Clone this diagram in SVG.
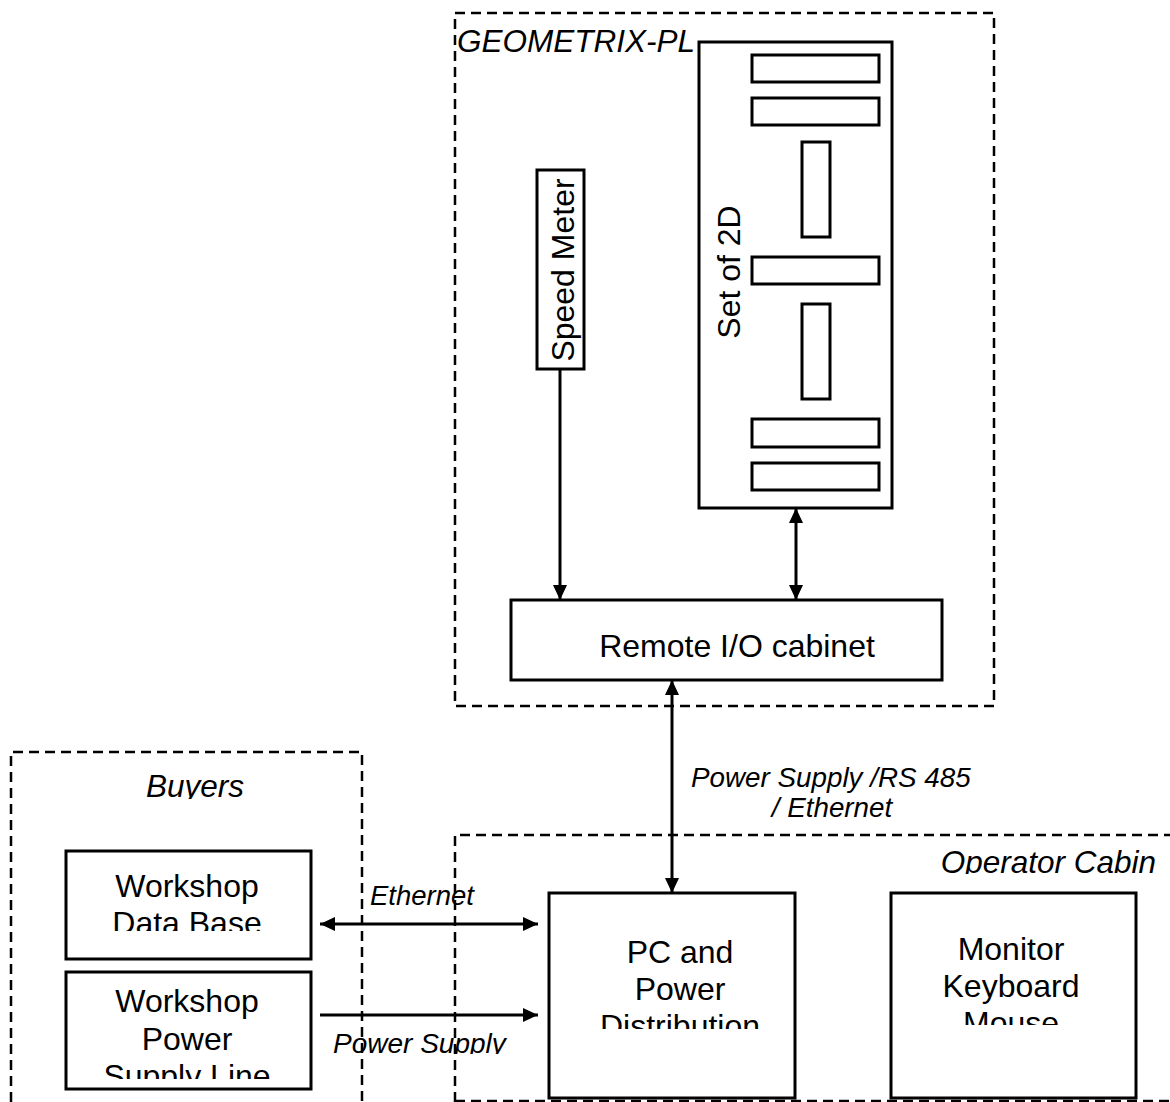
<svg xmlns="http://www.w3.org/2000/svg" width="1170" height="1102" viewBox="0 0 1170 1102">
<style>
.grp{fill:none;stroke:#000;stroke-width:2.5;stroke-dasharray:10 6}
.box{fill:#fff;stroke:#000;stroke-width:3}
.sub{fill:#fff;stroke:#000;stroke-width:3}
.t{font-family:"Liberation Sans",Arial,sans-serif;font-size:32px;fill:#000}
.i{font-family:"Liberation Sans",Arial,sans-serif;font-style:italic;fill:#000}
.c{fill:none;stroke:#000;stroke-width:3}
</style>
<defs>
<marker id="ah" markerUnits="userSpaceOnUse" markerWidth="15" markerHeight="14" refX="15" refY="7" orient="auto-start-reverse" viewBox="0 0 15 14">
<path d="M0,0 L15,7 L0,14 Z" fill="#000"/>
</marker>
<clipPath id="cBuyers"><rect x="100" y="760" width="200" height="39"/></clipPath>
<clipPath id="cDB"><rect x="66" y="900" width="245" height="31"/></clipPath>
<clipPath id="cPSL"><rect x="66" y="1055" width="245" height="24"/></clipPath>
<clipPath id="cPS"><rect x="320" y="1020" width="220" height="34"/></clipPath>
<clipPath id="cEth"><rect x="700" y="792" width="260" height="25"/></clipPath>
<clipPath id="cOC"><rect x="900" y="840" width="270" height="34"/></clipPath>
<clipPath id="cDist"><rect x="549" y="1005" width="246" height="24"/></clipPath>
<clipPath id="cMouse"><rect x="891" y="1000" width="245" height="25"/></clipPath>
</defs>

<g id="group-geometrix">
<rect class="grp" x="455" y="13" width="539" height="693"/>
<text class="i" x="457" y="52" font-size="31.5">GEOMETRIX-PL</text>
</g>
<g id="group-buyers">
<path class="grp" d="M11,1102 V752 H362 V1102"/>
<text class="i" x="195" y="797" font-size="31.5" text-anchor="middle" clip-path="url(#cBuyers)">Buyers</text>
</g>
<g id="group-operator">
<path class="grp" d="M455,1102 V835 H1170 M455,1101 H1170"/>
<text class="i" x="1156" y="873" font-size="31.5" text-anchor="end" clip-path="url(#cOC)">Operator Cabin</text>
</g>

<g id="node-set2d">
<rect class="box" x="699" y="42" width="193" height="466"/>
<rect class="sub" x="752" y="55" width="127" height="27"/>
<rect class="sub" x="752" y="98" width="127" height="27"/>
<rect class="sub" x="802" y="142" width="28" height="95"/>
<rect class="sub" x="752" y="257" width="127" height="27"/>
<rect class="sub" x="802" y="304" width="28" height="95"/>
<rect class="sub" x="752" y="419" width="127" height="28"/>
<rect class="sub" x="752" y="463" width="127" height="27"/>
<text class="t" transform="translate(740,272) rotate(-90)" text-anchor="middle">Set of 2D</text>
</g>
<g id="node-speed">
<rect class="box" x="537" y="170" width="47" height="199"/>
<text class="t" transform="translate(574,270) rotate(-90)" text-anchor="middle">Speed Meter</text>
</g>
<g id="node-remote">
<rect class="box" x="511" y="600" width="431" height="80"/>
<text class="t" x="737" y="657" text-anchor="middle">Remote I/O cabinet</text>
</g>
<g id="node-wdb">
<rect class="box" x="66" y="851" width="245" height="108"/>
<text class="t" x="187" y="897" text-anchor="middle">Workshop</text>
<text class="t" x="187" y="934" text-anchor="middle" clip-path="url(#cDB)">Data Base</text>
</g>
<g id="node-wpsl">
<rect class="box" x="66" y="972" width="245" height="117"/>
<text class="t" x="187" y="1012" text-anchor="middle">Workshop</text>
<text class="t" x="187" y="1050" text-anchor="middle">Power</text>
<text class="t" x="187" y="1087" text-anchor="middle" clip-path="url(#cPSL)">Supply Line</text>
</g>
<g id="node-pc">
<rect class="box" x="549" y="893" width="246" height="205"/>
<text class="t" x="680" y="963" text-anchor="middle">PC and</text>
<text class="t" x="680" y="1000" text-anchor="middle">Power</text>
<text class="t" x="680" y="1037" text-anchor="middle" clip-path="url(#cDist)">Distribution</text>
</g>
<g id="node-monitor">
<rect class="box" x="891" y="893" width="245" height="205"/>
<text class="t" x="1011" y="960" text-anchor="middle">Monitor</text>
<text class="t" x="1011" y="997" text-anchor="middle">Keyboard</text>
<text class="t" x="1011" y="1034" text-anchor="middle" clip-path="url(#cMouse)">Mouse</text>
</g>

<g id="connectors">
<line class="c" x1="560" y1="369" x2="560" y2="600" marker-end="url(#ah)"/>
<line class="c" x1="796" y1="508" x2="796" y2="600" marker-start="url(#ah)" marker-end="url(#ah)"/>
<line class="c" x1="672" y1="680" x2="672" y2="893" marker-start="url(#ah)" marker-end="url(#ah)"/>
<line class="c" x1="320" y1="924" x2="538" y2="924" marker-start="url(#ah)" marker-end="url(#ah)"/>
<line class="c" x1="320" y1="1015" x2="538" y2="1015" marker-end="url(#ah)"/>
<text class="i" x="691" y="787" font-size="27.8">Power Supply /RS 485</text>
<text class="i" x="832" y="817" font-size="27.8" text-anchor="middle" clip-path="url(#cEth)">/ Ethernet</text>
<text class="i" x="370" y="905" font-size="27.5">Ethernet</text>
<text class="i" x="333" y="1053" font-size="28" clip-path="url(#cPS)">Power Supply</text>
</g>
</svg>
